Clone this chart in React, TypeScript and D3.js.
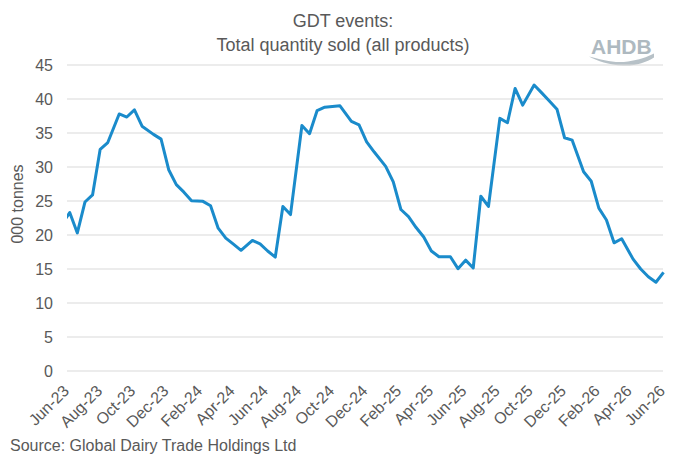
import React from 'react';
import * as d3 from 'd3';

// GDT event dates (first and third Tuesday of each month)
const eventDates: string[] = [
  '2023-05-16', '2023-06-06', '2023-06-20', '2023-07-04', '2023-07-18', '2023-08-01', '2023-08-15',
  '2023-09-05', '2023-09-19', '2023-10-03', '2023-10-17', '2023-11-07', '2023-11-21', '2023-12-05', '2023-12-19',
  '2024-01-02', '2024-01-16', '2024-02-06', '2024-02-20', '2024-03-05', '2024-03-19', '2024-04-02', '2024-04-16',
  '2024-05-07', '2024-05-21', '2024-06-04', '2024-06-18', '2024-07-02', '2024-07-16', '2024-08-06', '2024-08-20',
  '2024-09-03', '2024-09-17', '2024-10-01', '2024-10-15', '2024-11-05', '2024-11-19', '2024-12-03', '2024-12-17',
  '2025-01-07', '2025-01-21', '2025-02-04', '2025-02-18', '2025-03-04', '2025-03-18', '2025-04-01', '2025-04-15',
  '2025-05-06', '2025-05-20', '2025-06-03', '2025-06-17', '2025-07-01', '2025-07-15', '2025-08-05', '2025-08-19',
  '2025-09-02', '2025-09-16', '2025-10-07', '2025-10-21', '2025-11-04', '2025-11-18', '2025-12-02', '2025-12-16',
  '2026-01-06', '2026-01-20', '2026-02-03', '2026-02-17', '2026-03-03', '2026-03-17', '2026-04-07', '2026-04-21',
  '2026-05-05', '2026-05-19', '2026-06-02',
];

// Total quantity sold, 000 tonnes
const quantitySold: number[] = [
  20.8, 23.3, 20.3, 24.85, 25.9, 32.6, 33.6, 37.8, 37.35, 38.4, 36.0, 34.8, 34.1, 29.6, 27.4,
  26.3, 25.05, 24.95, 24.3, 21.0, 19.55, 18.65, 17.75, 19.2, 18.7, 17.65, 16.75, 24.2, 23.0, 36.1, 34.9,
  38.3, 38.8, 38.9, 39.0, 36.7, 36.2, 33.7, 32.2,
  30.1, 27.8, 23.75, 22.7, 21.1, 19.7, 17.65, 16.8, 16.8, 15.05, 16.3, 15.15, 25.7, 24.2, 37.15, 36.5,
  41.55, 39.1, 42.05, 40.9, 39.7, 38.5, 34.3, 33.95,
  29.3, 27.9, 23.95, 22.2, 18.85, 19.45, 16.45, 15.0, 13.85, 13.05, 14.5,
];

const xTickDates: string[] = [
  '2023-06-01', '2023-08-01', '2023-10-01', '2023-12-01', '2024-02-01', '2024-04-01', '2024-06-01',
  '2024-08-01', '2024-10-01', '2024-12-01', '2025-02-01', '2025-04-01', '2025-06-01', '2025-08-01',
  '2025-10-01', '2025-12-01', '2026-02-01', '2026-04-01', '2026-06-01',
];
const xTickLabels: string[] = [
  'Jun-23', 'Aug-23', 'Oct-23', 'Dec-23', 'Feb-24', 'Apr-24', 'Jun-24', 'Aug-24', 'Oct-24', 'Dec-24',
  'Feb-25', 'Apr-25', 'Jun-25', 'Aug-25', 'Oct-25', 'Dec-25', 'Feb-26', 'Apr-26', 'Jun-26',
];
const yTicks: number[] = [0, 5, 10, 15, 20, 25, 30, 35, 40, 45];

const titleLines = ['GDT events:', 'Total quantity sold (all products)'];
const yAxisTitle = '000 tonnes';
const sourceText = 'Source: Global Dairy Trade Holdings Ltd';

const W = 686;
const H = 462;
const FONT = "'Liberation Sans', Arial, sans-serif";
const TEXT = '#595959';

export default function App() {
  const parse = d3.utcParse('%Y-%m-%d');
  const x = d3
    .scaleUtc()
    .domain([parse('2023-06-01')!, parse('2026-06-01')!])
    .range([67, 663]);
  const y = d3.scaleLinear().domain([0, 45]).range([371, 65]);

  const points = eventDates.map((d, i) => ({ date: parse(d)!, v: quantitySold[i] }));
  const line = d3
    .line<{ date: Date; v: number }>()
    .x((d) => x(d.date))
    .y((d) => y(d.v));

  return (
    <svg
      width={W}
      height={H}
      viewBox={`0 0 ${W} ${H}`}
      style={{ position: 'absolute', left: 0, top: 0, background: '#fff' }}
      fontFamily={FONT}
    >
      <defs>
        <clipPath id="plotClip">
          <rect x={x.range()[0]} y={0} width={x.range()[1] - x.range()[0] + 2} height={H} />
        </clipPath>
      </defs>
      <rect x={0} y={0} width={W} height={H} fill="#fff" />

      {/* title */}
      <text x={343} y={27} textAnchor="middle" fontSize={18} fill={TEXT}>
        {titleLines[0]}
      </text>
      <text x={343} y={51} textAnchor="middle" fontSize={18} fill={TEXT}>
        {titleLines[1]}
      </text>

      {/* logo */}
      <g>
        <text x={591} y={53.5} fontSize={21} fontWeight={700} fill="#aeb9c0">
          AHDB
        </text>
        <path
          d="M589,56.5 C603,60 614,63.5 628,61.5 C639,60 647,57 654,53.5 L654,57.5 C646,62.5 636,66 623,65.5 C608,65 598,61 589,56.5 Z"
          fill="#b7c1c7"
        />
      </g>

      {/* gridlines */}
      {yTicks.map((t) => (
        <line key={`g${t}`} x1={67} x2={663} y1={y(t)} y2={y(t)} stroke="#d9d9d9" strokeWidth={1} />
      ))}

      {/* y tick labels */}
      {yTicks.map((t) => (
        <text key={`yl${t}`} x={53} y={y(t)} dy="0.35em" textAnchor="end" fontSize={16} fill={TEXT}>
          {t}
        </text>
      ))}

      {/* y axis title */}
      <text
        transform={`translate(23,204) rotate(-90)`}
        textAnchor="middle"
        fontSize={16}
        fill={TEXT}
      >
        {yAxisTitle}
      </text>

      {/* x tick labels */}
      {xTickDates.map((d, i) => {
        const px = x(parse(d)!);
        return (
          <text
            key={`xl${d}`}
            transform={`translate(${px + 3},${392}) rotate(-45)`}
            textAnchor="end"
            fontSize={16}
            fill={TEXT}
          >
            {xTickLabels[i]}
          </text>
        );
      })}

      {/* data line */}
      <path
        d={line(points) ?? ''}
        fill="none"
        stroke="#1a8bcb"
        strokeWidth={3}
        strokeLinejoin="round"
        clipPath="url(#plotClip)"
      />

      {/* source */}
      <text x={10} y={451} fontSize={16} fill={TEXT}>
        {sourceText}
      </text>
    </svg>
  );
}
